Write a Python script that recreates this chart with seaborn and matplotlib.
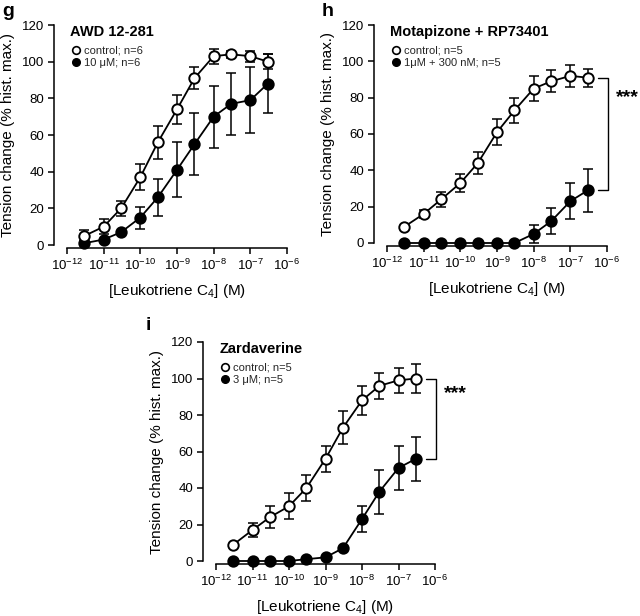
import numpy as np
import pandas as pd
import matplotlib
matplotlib.use("Agg")
import matplotlib.pyplot as plt
import matplotlib.transforms as mtransforms
from matplotlib.lines import Line2D
import seaborn as sns

sns.set_theme(style="ticks")
plt.rcParams['font.family'] = ['Liberation Sans', 'DejaVu Sans']
plt.rcParams['mathtext.fontset'] = 'custom'
plt.rcParams['mathtext.rm'] = 'Liberation Sans'
plt.rcParams['mathtext.it'] = 'Liberation Sans:italic'
plt.rcParams['mathtext.bf'] = 'Liberation Sans:bold'

conc = [3e-12, 1e-11, 3e-11, 1e-10, 3e-10, 1e-9, 3e-9, 1e-8, 3e-8, 1e-7, 3e-7]

g_ctrl = [5, 10, 20, 37, 56, 74, 91, 103, 104, 103, 100]
g_ctrl_err = [3, 4, 4, 7, 9, 8, 6, 4, 2, 3, 4]
g_trt = [1, 3, 7, 15, 26, 41, 55, 70, 77, 79, 88]
g_trt_err = [0, 0, 0, 6, 10, 15, 17, 17, 17, 18, 16]

h_ctrl = [9, 16, 24, 33, 44, 61, 73, 85, 89, 92, 91]
h_ctrl_err = [0, 2, 4, 5, 6, 7, 7, 7, 6, 6, 5]
h_trt = [0, 0, 0, 0, 0, 0, 0, 5, 12, 23, 29]
h_trt_err = [0, 0, 0, 0, 0, 0, 0, 5, 7, 10, 12]

i_ctrl = [9, 17, 24, 30, 40, 56, 73, 88, 96, 99, 100]
i_ctrl_err = [0, 4, 6, 7, 7, 7, 9, 8, 7, 7, 8]
i_trt = [0, 0, 0, 0, 1, 2, 7, 23, 38, 51, 56]
i_trt_err = [0, 0, 0, 0, 0, 0, 0, 7, 12, 12, 12]

titles = ["AWD 12-281", "Motapizone + RP73401", "Zardaverine"]
ctrl_labels = ["control; n=6", "control; n=5", "control; n=5"]
trt_labels = ["10 \u03bcM; n=6", "1\u03bcM + 300 nM; n=5", "3 \u03bcM; n=5"]
letters = ["g", "h", "i"]

W, H = 640, 616
fig = plt.figure(figsize=(W / 100, H / 100), dpi=100)

# axes boxes in pixels: left, top, right, bottom
boxes = [(67, 25, 287, 245), (387, 25, 607, 243), (216, 342, 435, 561)]
letter_pos = [(2, 12), (322, 12), (146, 325)]
star_y = [None, 80, 92]


def make_ax(box):
    l, t, r, b = box
    return fig.add_axes([l / W, 1 - b / H, (r - l) / W, (b - t) / H])


panels = [
    (g_ctrl, g_ctrl_err, g_trt, g_trt_err, False),
    (h_ctrl, h_ctrl_err, h_trt, h_trt_err, True),
    (i_ctrl, i_ctrl_err, i_trt, i_trt_err, True),
]

for k, (ctrl, cerr, trt, terr, bracket) in enumerate(panels):
    ax = make_ax(boxes[k])
    df = pd.DataFrame({
        "conc": conc * 2,
        "value": ctrl + trt,
        "err": cerr + terr,
        "group": ["control"] * len(conc) + ["treated"] * len(conc),
    })
    for grp, face in [("treated", "black"), ("control", "white")]:
        sub = df[df["group"] == grp]
        ax.errorbar(sub["conc"], sub["value"], yerr=sub["err"], fmt="none",
                    ecolor="black", elinewidth=1.1, capsize=3.3, capthick=1.1,
                    clip_on=False, zorder=2)
        sns.lineplot(data=sub, x="conc", y="value", ax=ax, color="black",
                     linewidth=1.3, marker="o", markersize=7.5,
                     markerfacecolor=face, markeredgecolor="black",
                     markeredgewidth=1.4, clip_on=False, zorder=3,
                     errorbar=None, legend=False)
    ax.set_xscale("log")
    ax.set_xlim(1e-12, 1e-6)
    ax.set_ylim(0, 120)
    ax.set_xticks([1e-12, 1e-11, 1e-10, 1e-9, 1e-8, 1e-7, 1e-6])
    ax.xaxis.set_minor_locator(matplotlib.ticker.NullLocator())
    ax.set_yticks([0, 20, 40, 60, 80, 100, 120])
    ax.tick_params(axis="both", labelsize=9.5, width=1.1, length=4,
                   color="black", labelcolor="black", direction="out", pad=3)
    for s in ["top", "right"]:
        ax.spines[s].set_visible(False)
    ax.spines["left"].set_position(("outward", 9.5))
    ax.spines["bottom"].set_position(("outward", 2.5))
    for s in ["left", "bottom"]:
        ax.spines[s].set_color("black")
        ax.spines[s].set_linewidth(1.1)
    ax.set_xlabel("[Leukotriene C$_4$] (M)", fontsize=11, color="black",
                  labelpad=6)
    ax.set_ylabel("Tension change (% hist. max.)", fontsize=11,
                  color="black", labelpad=5)
    ax.set_facecolor("none")

    ax.text(0.015, 1.0, titles[k], transform=ax.transAxes, fontsize=10.5,
            fontweight="bold", va="top", ha="left", color="black")
    handles = [
        Line2D([], [], linestyle="none", marker="o", markersize=5.5,
               markerfacecolor="white", markeredgecolor="black",
               markeredgewidth=1.2, label=ctrl_labels[k]),
        Line2D([], [], linestyle="none", marker="o", markersize=5.5,
               markerfacecolor="black", markeredgecolor="black",
               label=trt_labels[k]),
    ]
    ax.legend(handles=handles, loc="upper left", bbox_to_anchor=(0.0, 0.925),
              frameon=False, fontsize=8, handletextpad=0.3,
              handlelength=0.8, borderaxespad=0, labelspacing=0.2)

    if bracket:
        trans = mtransforms.blended_transform_factory(ax.transAxes, ax.transData)
        ytop, ybot = ctrl[-1], trt[-1]
        x0, x1 = 1.0 + (-9 / 220), 1.0 + (1 / 220)
        ax.plot([x0, x1, x1, x0], [ytop, ytop, ybot, ybot], color="black",
                lw=1.0, transform=trans, clip_on=False)
        ax.text(x1 + 0.035, star_y[k], "***", transform=trans,
                fontsize=14, fontweight="bold", va="center", ha="left",
                color="black")

    lx, ly = letter_pos[k]
    fig.text(lx / W, 1 - ly / H, letters[k], fontsize=14, fontweight="bold",
             va="center", ha="left", color="black")

fig.savefig("out.png", dpi=100, facecolor="white")
